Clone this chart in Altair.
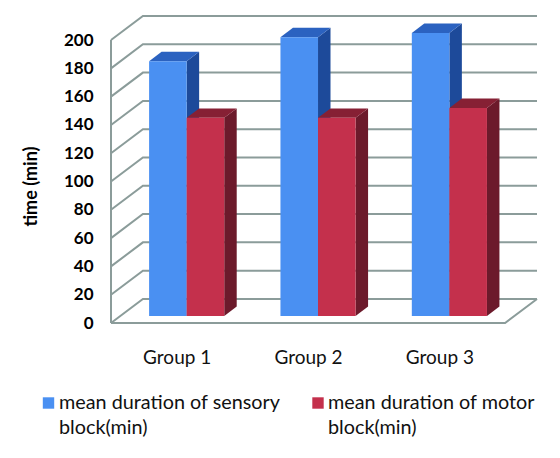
import altair as alt
import pandas as pd

groups = ["Group 1", "Group 2", "Group 3"]
sensory = [180, 197, 200]
motor = [140, 140, 147]
series_names = ["mean duration of sensory\nblock(min)", "mean duration of motor\nblock(min)"]
ticks = list(range(0, 201, 20))

FONT = "Lato"
DEPTH_X, DEPTH_Y = 0.243, 17
BAR_X, BAR_Y = 0.076, 5
BAR_DX, BAR_DY = 0.095, 6.7
BAR_W = 0.286

COL = {
    "s": ("#4a90f2", "#2b62c0", "#1d4a9a"),
    "m": ("#c4304c", "#862034", "#6c1a2b"),
}

grid, fronts, polys = [], [], []
for t in ticks:
    grid += [dict(id=t, o=0, x=0, y=t), dict(id=t, o=1, x=DEPTH_X, y=t + DEPTH_Y), dict(id=t, o=2, x=3 + DEPTH_X, y=t + DEPTH_Y)]
frame = [dict(id="floor", o=0, x=0, y=0), dict(id="floor", o=1, x=3, y=0), dict(id="floor", o=2, x=3 + DEPTH_X, y=DEPTH_Y),
         dict(id="wall", o=0, x=0, y=0), dict(id="wall", o=1, x=0, y=200)]

for key, vals, off in (("s", sensory, -1), ("m", motor, 0)):
    for i, v in enumerate(vals):
        xl = i + 0.5 + BAR_X + off * BAR_W
        xr = xl + BAR_W
        top = v + BAR_Y
        fronts.append(dict(x=xl, x2=xr, y=BAR_Y, y2=top, c=COL[key][0]))
        pid = f"{key}{i}"
        polys.append(dict(id=pid + "side", k=key, x=xr, lo=BAR_Y, hi=top, c=COL[key][2]))
        polys.append(dict(id=pid + "side", k=key, x=xr + BAR_DX, lo=BAR_Y + BAR_DY, hi=top + BAR_DY, c=COL[key][2]))
        polys.append(dict(id=pid + "top", k=key, x=xl, lo=top, hi=top, c=COL[key][1]))
        polys.append(dict(id=pid + "top", k=key, x=xl + BAR_DX, lo=top, hi=top + BAR_DY, c=COL[key][1]))
        polys.append(dict(id=pid + "top", k=key, x=xr, lo=top, hi=top + BAR_DY, c=COL[key][1]))
        polys.append(dict(id=pid + "top", k=key, x=xr + BAR_DX, lo=top + BAR_DY, hi=top + BAR_DY, c=COL[key][1]))

xs = alt.Scale(domain=[0, 3 + DEPTH_X], nice=False, zero=False)
ys = alt.Scale(domain=[0, 200 + DEPTH_Y], nice=False, zero=False)

x_axis = alt.Axis(
    values=[0.5, 1.5, 2.5], title=None, domain=False, ticks=False, grid=False,
    labelExpr="['Group 1','Group 2','Group 3'][floor(datum.value)]",
    labelFont=FONT, labelFontSize=19, labelColor="#111111", labelPadding=25, labelAngle=0,
    labelOverlap=False,
)
y_axis = alt.Axis(
    values=ticks, title="time (min)", domain=False, ticks=False, grid=False,
    labelFont=FONT, labelFontSize=17, labelFontWeight="bold", labelColor="#000000", labelPadding=18,
    labelOverlap=False, labelSeparation=0, labelBound=False, labelFlush=False,
    titleFont=FONT, titleFontSize=18, titleFontWeight="bold", titleColor="#000000", titlePadding=23,
    titleY=170,
)

GRID = "#8b9c9a"
axes_layer = alt.Chart(pd.DataFrame(grid)).mark_line(color=GRID, strokeWidth=2, clip=False).encode(
    x=alt.X("x:Q", scale=xs, axis=x_axis),
    y=alt.Y("y:Q", scale=ys, axis=y_axis),
    detail="id:N", order="o:Q",
)
frame_layer = alt.Chart(pd.DataFrame(frame)).mark_line(color=GRID, strokeWidth=2, clip=False).encode(
    x=alt.X("x:Q", scale=xs, axis=x_axis), y=alt.Y("y:Q", scale=ys, axis=y_axis), detail="id:N", order="o:Q",
)

pdf = pd.DataFrame(polys)
def faces(key):
    return alt.Chart(pdf[pdf.k == key]).mark_area(interpolate="linear", orient="vertical", clip=False).encode(
        x=alt.X("x:Q", scale=xs, axis=x_axis), y=alt.Y("lo:Q", scale=ys, axis=y_axis), y2="hi:Q",
        detail="id:N",
        color=alt.Color("c:N", scale=None, legend=None),
    )

front_layer = alt.Chart(pd.DataFrame(fronts)).mark_rect(clip=False).encode(
    x=alt.X("x:Q", scale=xs, axis=x_axis), x2="x2:Q", y=alt.Y("y:Q", scale=ys, axis=y_axis), y2="y2:Q",
    color=alt.Color("c:N", scale=None, legend=None),
)

leg_layers = []
for name, sx, tx, c in zip(series_names, [-62.5, 207], [-52, 217], [COL["s"][0], COL["m"][0]]):
    leg_layers.append(alt.Chart(pd.DataFrame({"t": [name]})).mark_square(size=130, opacity=1, color=c, clip=False).encode(
        x=alt.value(sx), y=alt.value(387)))
    leg_layers.append(alt.Chart(pd.DataFrame({"t": [name]})).mark_text(
        font=FONT, fontSize=19.8, align="left", baseline="middle", color="#111111",
        lineHeight=25, lineBreak="\n", clip=False
    ).encode(x=alt.value(tx), y=alt.value(387), text="t:N"))

chart = alt.layer(axes_layer, frame_layer, faces("s"), faces("m"), front_layer, *leg_layers).properties(
    width=426, height=307,
    padding={"left": 103, "top": 8, "right": 15, "bottom": 125},
    autosize=alt.AutoSizeParams(type="none"),
    background="white",
    view=alt.ViewConfig(stroke="transparent", strokeWidth=0),
).configure_axis(labelOverlap=False)

chart.save("out.html", embed_options={"renderer": "svg", "actions": False})
